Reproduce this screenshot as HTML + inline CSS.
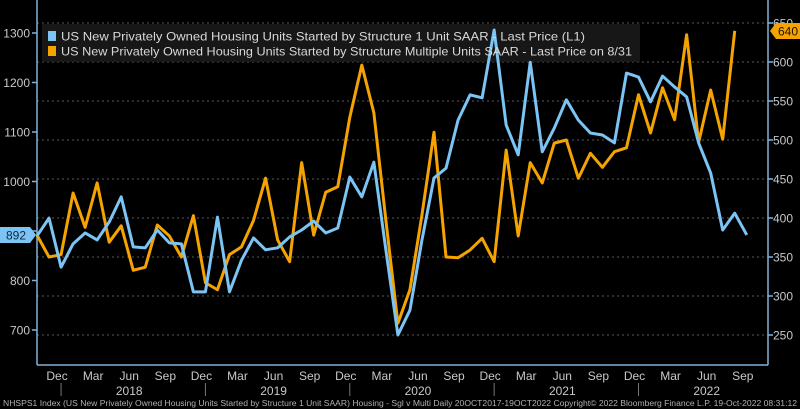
<!DOCTYPE html>
<html><head><meta charset="utf-8"><style>
html,body{margin:0;padding:0;background:#000;width:800px;height:409px;overflow:hidden}
svg{display:block;font-family:"Liberation Sans",sans-serif}
</style></head><body>
<svg id="chart" width="800" height="409" viewBox="0 0 800 409" xmlns="http://www.w3.org/2000/svg">
<rect x="0" y="0" width="800" height="409" fill="#000"/>
<g id="grid"></g>
<rect x="42" y="24" width="598" height="38" fill="#1b1b1b" opacity="0.85"/>
<g id="axes"></g>
<g id="series"></g>
<g>
<rect x="48" y="31" width="8" height="10" fill="#7cc4f4"/>
<text x="61" y="40.5" font-size="12" fill="#d8d8d8" textLength="524" lengthAdjust="spacingAndGlyphs">US New Privately Owned Housing Units Started by Structure 1 Unit SAAR - Last Price (L1)</text>
<rect x="48" y="46" width="8" height="10" fill="#f5a300"/>
<text x="61" y="55.5" font-size="12" fill="#d8d8d8" textLength="571" lengthAdjust="spacingAndGlyphs">US New Privately Owned Housing Units Started by Structure Multiple Units SAAR - Last Price on 8/31</text>
</g>
<g>
<polygon points="0,227 30,227 36,235 30,243 0,243" fill="#7cc4f4"/>
<text x="16" y="239.5" font-size="12" fill="#0a2a44" text-anchor="middle">892</text>
</g>
<g>
<polygon points="770,31 776,23 800,23 800,39 776,39" fill="#f5a300"/>
<text x="788" y="35.5" font-size="12" fill="#201400" text-anchor="middle">640</text>
</g>
<text x="3" y="406" font-size="8" fill="#b0b0b0" textLength="794" lengthAdjust="spacingAndGlyphs">NHSPS1 Index (US New Privately Owned Housing Units Started by Structure 1 Unit SAAR) Housing - Sgl v Multi  Daily 20OCT2017-19OCT2022    Copyright© 2022 Bloomberg Finance L.P.    19-Oct-2022 08:31:12</text>
</svg>
<script>
const singleUnits = [890,926,827,874,896,882,918,969,868,866,902,876,874,777,777,928,777,841,886,862,866,888,902,920,896,906,1009,969,1039,862,690,740,882,1007,1027,1124,1175,1169,1306,1114,1054,1241,1060,1108,1165,1124,1098,1094,1078,1219,1211,1161,1213,1191,1171,1078,1017,902,936,892];
const multiUnits = [378,350,353,432,388,445,369,390,333,337,391,377,350,403,317,308,353,363,397,451,372,344,471,378,433,440,529,596,535,397,265,308,404,510,350,349,359,374,344,487,377,471,445,496,500,451,483,465,485,490,558,509,567,526,635,497,564,501,640];
const leftTicks = [700,800,900,1000,1100,1200,1300];
const leftLabels = ["700","800","","1000","1100","1200","1300"];
const rightTicks = [250,300,350,400,450,500,550,600,650];
const rightLabels = ["250","300","350","400","450","500","550","600","650"];
const monthLabels = ["Dec","Mar","Jun","Sep","Dec","Mar","Jun","Sep","Dec","Mar","Jun","Sep","Dec","Mar","Jun","Sep","Dec","Mar","Jun","Sep"];
const monthIdx = [2,5,8,11,14,17,20,23,26,29,32,35,38,41,44,47,50,53,56,59];
const yearLabels = ["2018","2019","2020","2021","2022"];
const yearIdx = [8,20,32,44,56];
const yearSepIdx = [2,14,26,38,50];

const NS="http://www.w3.org/2000/svg";
const L=37,R=768,B=365;
const x=i=>37+i*12.03;
const yL=v=>33+(1300-v)*0.495;
const yR=v=>62+(600-v)*0.78;
function mk(tag,attrs,parent){const e=document.createElementNS(NS,tag);for(const k in attrs)e.setAttribute(k,attrs[k]);parent.appendChild(e);return e;}
const grid=document.getElementById('grid'),axes=document.getElementById('axes'),series=document.getElementById('series');

rightTicks.forEach((v,i)=>{
  const g=mk('line',{x1:L,x2:R,y1:yR(v),y2:yR(v),stroke:'#5a5a5a','stroke-width':1,'stroke-dasharray':'2,3'},grid);
  
  
  const t=mk('line',{x1:R,x2:R+5,y1:yR(v),y2:yR(v),stroke:'#7fb2dc','stroke-width':1.5},axes);
  
  
  const tx=mk('text',{x:R+5,y:yR(v)+4.5,'font-size':12,fill:'#c8c8c8'},axes);
  tx.textContent=rightLabels[i];
  
  
});
leftTicks.forEach((v,i)=>{
  const t=mk('line',{x1:L-5,x2:L,y1:yL(v),y2:yL(v),stroke:'#7fb2dc','stroke-width':1.5},axes);
  
  
  const tx=mk('text',{x:L-7,y:yL(v)+4.5,'font-size':12,fill:'#c8c8c8','text-anchor':'end'},axes);
  tx.textContent=leftLabels[i];
  
  
});
[['left-axis',L,0,L,B],['right-axis',R,0,R,B],['x-axis',L,B,R,B]].forEach(a=>{
  const l=mk('line',{x1:a[1],y1:a[2],x2:a[3],y2:a[4],stroke:'#7fb2dc','stroke-width':1.5},axes);
  
  
});
monthLabels.forEach((m,i)=>{
  const tx=mk('text',{x:x(monthIdx[i])-4,y:380,'font-size':12,fill:'#c8c8c8','text-anchor':'middle'},axes);
  tx.textContent=m;
  
  
});
yearLabels.forEach((m,i)=>{
  const tx=mk('text',{x:x(yearIdx[i])-4,y:395,'font-size':12,fill:'#c8c8c8','text-anchor':'middle'},axes);
  tx.textContent=m;
  
  
});
yearSepIdx.forEach(i=>{
  const l=mk('line',{x1:x(i),x2:x(i),y1:383,y2:396,stroke:'#777','stroke-width':1},axes);
  
  
});
const pm=mk('polyline',{points:multiUnits.map((v,i)=>x(i)+','+yR(v)).join(' '),fill:'none',stroke:'#f5a300','stroke-width':3,'stroke-linejoin':'round'},series);


const ps=mk('polyline',{points:singleUnits.map((v,i)=>x(i)+','+yL(v)).join(' '),fill:'none',stroke:'#7cc4f4','stroke-width':3,'stroke-linejoin':'round'},series);


</script>
</body></html>
